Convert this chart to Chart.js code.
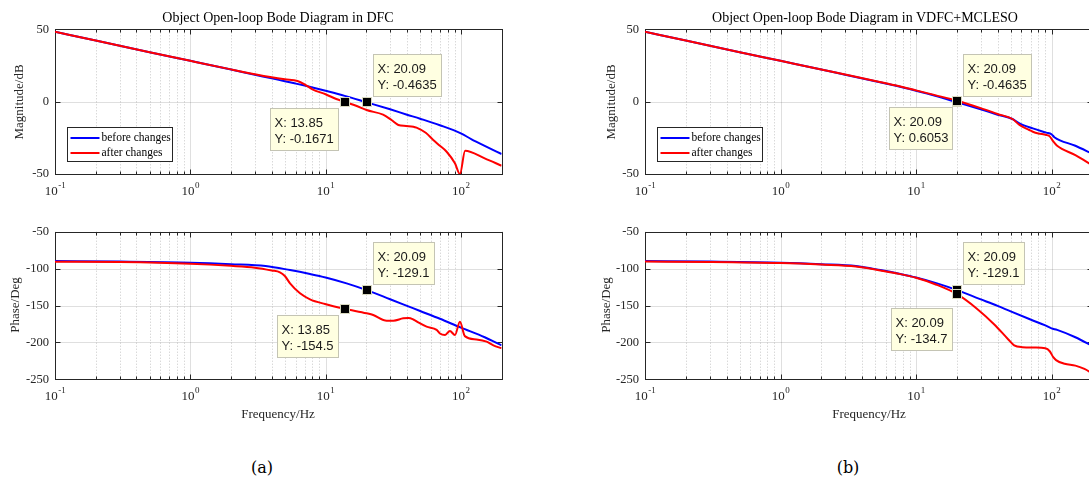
<!DOCTYPE html>
<html>
<head>
<meta charset="utf-8">
<script src="https://cdn.jsdelivr.net/npm/chart.js@4.4.1/dist/chart.umd.min.js"></script>
<style>
  html, body { margin: 0; padding: 0; background: #fff; }
  body { width: 1089px; height: 483px; overflow: hidden; position: relative; }
  .box { position: absolute; }
  .txt { position: absolute; white-space: nowrap; color: #000; font-family: "Liberation Serif", serif; }
  .ttl { font-size: 14px; line-height: 16px; transform: translateX(-50%); }
  .ylab { font-size: 13px; line-height: 14px; transform: translate(-50%, -50%) rotate(-90deg); color: #262626; }
  .xlab { font-size: 13px; line-height: 14px; transform: translate(-50%, -50%); color: #262626; }
  .cap { font-family: "DejaVu Serif", serif; font-size: 16px; line-height: 18px; transform: translate(-50%, -50%); }
</style>
</head>
<body>

<div class="box" style="left:0;top:0"><canvas id="magA" width="540" height="200"></canvas></div>
<div class="box" style="left:0;top:200px"><canvas id="phA" width="540" height="230"></canvas></div>
<div class="box" style="left:549px;top:0"><canvas id="magB" width="560" height="200"></canvas></div>
<div class="box" style="left:549px;top:200px"><canvas id="phB" width="560" height="230"></canvas></div>

<div class="txt ttl" style="left:278px;top:10px">Object Open-loop Bode Diagram in DFC</div>
<div class="txt ttl" style="left:865px;top:10px">Object Open-loop Bode Diagram in VDFC+MCLESO</div>
<div class="txt ylab" style="left:19px;top:102px">Magnitude/dB</div>
<div class="txt ylab" style="left:15px;top:305px">Phase/Deg</div>
<div class="txt ylab" style="left:611px;top:102px">Magnitude/dB</div>
<div class="txt ylab" style="left:606px;top:305px">Phase/Deg</div>
<div class="txt xlab" style="left:278px;top:414px">Frequency/Hz</div>
<div class="txt xlab" style="left:869px;top:414px">Frequency/Hz</div>
<div class="txt cap" style="left:262px;top:468px">(a)</div>
<div class="txt cap" style="left:848px;top:468px">(b)</div>

<script>
// ---- data ----
const seriesNames = ['before changes', 'after changes'];
const xDecades = [0.1, 1, 10, 100];
const magTicks = [-50, 0, 50];
const phaseTicks = [-250, -200, -150, -100, -50];

// (a) DFC, magnitude
const dfcMagBlueF = [0.1, 0.2, 0.5, 1, 2, 3, 4, 5, 6, 7, 8, 10, 13.85, 20.09, 30, 40, 50, 70, 100, 120, 150, 200];
const dfcMagBlue  = [48.3, 42.2, 34.2, 28.2, 22.2, 18.6, 16.1, 14.1, 12.5, 11.1, 9.8, 7.5, 4.0, -0.46, -5.3, -9.0, -11.8, -16.3, -21.9, -26.0, -30.5, -36.2];
const dfcMagRedF  = [0.1, 0.2, 0.5, 1, 2, 3, 4, 5, 6.2, 7, 8, 10, 12, 13.85, 17, 20.09, 26.6, 30.7, 34.5, 39.3, 44.6, 47, 55, 62.5, 70, 78.5, 90.4, 98.4, 107.5, 150, 200];
const dfcMagRed   = [48.3, 42.2, 34.2, 28.2, 22.3, 19.0, 16.9, 15.5, 14.3, 12.0, 8.5, 5.1, 1.8, -0.17, -3.0, -5.8, -9.0, -12.7, -16.1, -16.8, -17.3, -18.0, -21.5, -26.5, -30.5, -34.6, -42.6, -50, -33.9, -39.2, -44.3];
// (a) DFC, phase
const dfcPhBlueF = [0.1, 0.3, 1, 2, 3.6, 5.46, 7.67, 10, 14.3, 20.09, 30, 40, 50, 70, 100, 150, 200];
const dfcPhBlue  = [-89.8, -90.5, -92, -94, -96.5, -102, -107.3, -112, -120, -129.1, -141.5, -150.5, -157.5, -168, -180, -193, -204];
const dfcPhRedF  = [0.1, 0.3, 1, 2, 3, 4, 4.6, 5.0, 5.46, 6.47, 7.67, 9.9, 13.85, 20.1, 22.5, 28.3, 31.7, 37.5, 41, 44.5, 48.4, 55.8, 66.2, 70, 76.4, 83, 90.4, 98.4, 107, 130.6, 155, 174, 200];
const dfcPhRed   = [-90.6, -91.2, -93.5, -96.3, -98.7, -102.5, -105, -110, -120, -133.5, -141.6, -148, -154.5, -160.6, -162.9, -170.5, -170.5, -167.4, -167, -169, -173, -178.7, -183, -188, -190, -184.5, -190, -172, -191.5, -196, -199, -204, -208];

// (b) VDFC+MCLESO, magnitude
const vdfcMagBlueF = [0.1, 0.2, 0.5, 1, 2, 3, 5, 7, 10, 13.85, 20.09, 30, 40, 51.5, 58, 72.8, 91.5, 100, 105, 150, 200];
const vdfcMagBlue  = [48.3, 42.2, 34.2, 28.2, 22.2, 18.6, 14.1, 11.1, 7.5, 4.0, -0.46, -5.3, -9.0, -12.0, -15.0, -18.5, -21.4, -22.5, -24.6, -30.5, -36.0];
const vdfcMagRedF  = [0.1, 0.2, 0.5, 1, 2, 3, 5, 7, 10, 13.85, 20.09, 30, 40, 51.5, 58, 68.5, 72.8, 80, 91.5, 97, 103, 110, 150, 200];
const vdfcMagRed   = [48.3, 42.2, 34.2, 28.2, 22.2, 18.7, 14.3, 11.3, 7.8, 4.5, 0.6053, -4.5, -8.5, -12.0, -16.1, -19.6, -20.8, -22.0, -23.0, -24.0, -27.5, -30.5, -37.0, -44.0];
// (b) VDFC+MCLESO, phase
const vdfcPhBlueF = [0.1, 0.3, 1, 2, 3.6, 5.46, 7.67, 10, 14.3, 20.09, 29.4, 40, 50, 70, 90, 100, 110, 150, 187, 200];
const vdfcPhBlue  = [-89.8, -90.5, -92, -94, -96.5, -102, -107.3, -112, -120, -129.1, -141, -150.5, -158, -169, -177, -181, -183, -193, -202, -205];
const vdfcPhRedF  = [0.1, 0.3, 1, 2, 3.6, 5.46, 7.67, 10, 14, 20.09, 28, 38, 48, 53, 61, 75, 90, 97, 103, 108, 125, 150, 175, 200];
const vdfcPhRed   = [-90.5, -91, -92.5, -94.5, -97, -102.5, -107.5, -112.5, -121.5, -134.7, -154, -176, -196, -204, -206.5, -207, -208, -212, -220, -224, -229, -231.5, -236, -242];

// data tips
const dfcMagTips  = [{ x: 13.85, y: -0.1671 }, { x: 20.09, y: -0.4635 }];
const dfcPhTips   = [{ x: 20.09, y: -129.1 }, { x: 13.85, y: -154.5 }];
const vdfcMagTips = [{ x: 20.09, y: -0.4635 }, { x: 20.09, y: 0.6053 }];
const vdfcPhTips  = [{ x: 20.09, y: -129.1 }, { x: 20.09, y: -134.7 }];

// ---- drawing helpers ----
const xMinor = [];
xDecades.forEach(d => { for (let k = 2; k <= 9; k++) if (k * d <= 200) xMinor.push(k * d); });

const snap = v => Math.round(v) + 0.5;
const pts = (f, v) => f.map((x, i) => ({ x, y: v[i] }));

function seg(ctx, x1, y1, x2, y2) {
  ctx.beginPath(); ctx.moveTo(x1, y1); ctx.lineTo(x2, y2); ctx.stroke();
}

const bodeAxes = {
  id: 'bodeAxes',
  beforeDatasetsDraw(chart, args, o) {
    const { ctx, chartArea: a, scales: { x, y } } = chart;
    ctx.save();
    ctx.lineWidth = 1;
    // minor grid (dotted)
    ctx.strokeStyle = 'rgba(38,38,38,0.25)';
    ctx.setLineDash([1, 2]);
    xMinor.forEach(v => { const px = snap(x.getPixelForValue(v)); seg(ctx, px, a.top, px, a.bottom); });
    ctx.setLineDash([]);
    // major grid
    ctx.strokeStyle = 'rgba(38,38,38,0.15)';
    xDecades.forEach(v => { const px = snap(x.getPixelForValue(v)); seg(ctx, px, a.top, px, a.bottom); });
    o.yTicks.forEach(v => { const py = snap(y.getPixelForValue(v)); seg(ctx, a.left, py, a.right, py); });
    // box
    ctx.strokeStyle = '#262626';
    const L = snap(a.left), R = snap(a.right), T = snap(a.top), B = snap(a.bottom);
    ctx.strokeRect(L, T, R - L, B - T);
    // inward ticks
    xMinor.forEach(v => { const px = snap(x.getPixelForValue(v)); seg(ctx, px, B, px, B - 3); seg(ctx, px, T, px, T + 3); });
    xDecades.forEach(v => { const px = snap(x.getPixelForValue(v)); seg(ctx, px, B, px, B - 5); seg(ctx, px, T, px, T + 5); });
    o.yTicks.forEach(v => { const py = snap(y.getPixelForValue(v)); seg(ctx, L, py, L + 5, py); seg(ctx, R, py, R - 5, py); });
    ctx.restore();
  },
  afterDatasetsDraw(chart, args, o) {
    const { ctx, chartArea: a, scales: { x, y } } = chart;
    ctx.save();
    // data tips
    ctx.font = '13px "Liberation Sans", Arial, sans-serif';
    o.tips.forEach((t, i) => {
      const p = o.place[i];
      const px = x.getPixelForValue(t.x), py = y.getPixelForValue(t.y);
      const l1 = 'X: ' + t.x, l2 = 'Y: ' + t.y;
      const w = Math.ceil(Math.max(ctx.measureText(l1).width, ctx.measureText(l2).width)) + 8;
      const h = 42;
      let bx = px + p.dx, by = py + p.dy;
      if (p.corner === 'bl') by -= h;
      if (p.corner === 'tr') bx -= w;
      bx = Math.round(bx) + 0.5; by = Math.round(by) + 0.5;
      ctx.fillStyle = '#ffffe1';
      ctx.strokeStyle = '#c4c4b4';
      ctx.lineWidth = 1;
      ctx.fillRect(bx, by, w, h);
      ctx.strokeRect(bx, by, w, h);
      ctx.fillStyle = '#1a1a1a';
      ctx.textAlign = 'left'; ctx.textBaseline = 'alphabetic';
      ctx.fillText(l1, bx + 4, by + 18);
      ctx.fillText(l2, bx + 4, by + 34);
    });
    o.tips.forEach(t => {
      const px = x.getPixelForValue(t.x), py = y.getPixelForValue(t.y);
      ctx.fillStyle = '#000';
      ctx.strokeStyle = '#d9d9c0';
      ctx.fillRect(Math.round(px) - 4, Math.round(py) - 4, 8, 8);
      ctx.strokeRect(Math.round(px) - 4.5, Math.round(py) - 4.5, 9, 9);
    });
    // legend
    if (o.legend) {
      const lx = Math.round(a.left) + 12.5, ly = Math.round(a.bottom) - 46.5;
      ctx.fillStyle = '#fff';
      ctx.strokeStyle = '#262626';
      ctx.fillRect(lx, ly, 105, 34);
      ctx.strokeRect(lx, ly, 105, 34);
      ctx.font = '11.5px "Liberation Serif", serif';
      ctx.textBaseline = 'middle';
      chart.data.datasets.forEach((d, i) => {
        const yy = ly + 10.5 + i * 15;
        ctx.strokeStyle = d.borderColor;
        ctx.lineWidth = 2;
        seg(ctx, lx + 3, yy, lx + 32, yy);
        ctx.fillStyle = '#000';
        ctx.fillText(d.label, lx + 34, yy);
      });
    }
    ctx.restore();
  },
  afterDraw(chart, args, o) {
    const { ctx, chartArea: a, scales: { x, y } } = chart;
    ctx.save();
    ctx.fillStyle = '#262626';
    // y tick labels
    ctx.font = '12.5px "Liberation Serif", serif';
    ctx.textAlign = 'right'; ctx.textBaseline = 'middle';
    o.yTicks.forEach(v => ctx.fillText(String(v), a.left - 6, y.getPixelForValue(v)));
    // x tick labels 10^n
    ctx.textAlign = 'left'; ctx.textBaseline = 'alphabetic';
    xDecades.forEach(v => {
      const e = String(Math.round(Math.log10(v)));
      ctx.font = '13px "Liberation Serif", serif';
      const wb = ctx.measureText('10').width;
      ctx.font = '9px "Liberation Serif", serif';
      const we = ctx.measureText(e).width;
      const sx = x.getPixelForValue(v) - (wb + we) / 2;
      ctx.font = '13px "Liberation Serif", serif';
      ctx.fillText('10', sx, a.bottom + 21);
      ctx.font = '9px "Liberation Serif", serif';
      ctx.fillText(e, sx + wb + 0.5, a.bottom + 14);
    });
    ctx.restore();
  }
};

function bode(id, blue, red, yMin, yMax, yTicks, tips, place, pad) {
  return new Chart(document.getElementById(id), {
    type: 'line',
    data: {
      datasets: [
        { label: seriesNames[0], data: blue, borderColor: '#0000ff', borderWidth: 2, pointRadius: 0, cubicInterpolationMode: 'monotone', order: 2 },
        { label: seriesNames[1], data: red, borderColor: '#ff0000', borderWidth: 2, pointRadius: 0, cubicInterpolationMode: 'monotone', order: 1 }
      ]
    },
    options: {
      responsive: false,
      animation: false,
      events: [],
      layout: { padding: pad },
      scales: {
        x: { type: 'logarithmic', min: 0.1, max: 200, display: false },
        y: { type: 'linear', min: yMin, max: yMax, display: false }
      },
      plugins: {
        legend: { display: false },
        tooltip: { enabled: false },
        bodeAxes: { yTicks, tips, place, legend: yMax === 50 }
      }
    },
    plugins: [bodeAxes]
  });
}

bode('magA', pts(dfcMagBlueF, dfcMagBlue), pts(dfcMagRedF, dfcMagRed), -50, 50, magTicks, dfcMagTips,
  [{ corner: 'tr', dx: -7, dy: 6 }, { corner: 'bl', dx: 6, dy: -6 }],
  { left: 55, top: 29.3, right: 38.4, bottom: 26 });
bode('phA', pts(dfcPhBlueF, dfcPhBlue), pts(dfcPhRedF, dfcPhRed), -250, -50, phaseTicks, dfcPhTips,
  [{ corner: 'bl', dx: 6, dy: -6 }, { corner: 'tr', dx: -7, dy: 6 }],
  { left: 55, top: 31.7, right: 38.4, bottom: 50.7 });
bode('magB', pts(vdfcMagBlueF, vdfcMagBlue), pts(vdfcMagRedF, vdfcMagRed), -50, 50, magTicks, vdfcMagTips,
  [{ corner: 'bl', dx: 6, dy: -6 }, { corner: 'tr', dx: -5, dy: 6.5 }],
  { left: 96, top: 29.3, right: 16.7, bottom: 26 });
bode('phB', pts(vdfcPhBlueF, vdfcPhBlue), pts(vdfcPhRedF, vdfcPhRed), -250, -50, phaseTicks, vdfcPhTips,
  [{ corner: 'bl', dx: 6, dy: -6.5 }, { corner: 'tr', dx: -5, dy: 14 }],
  { left: 96, top: 31.7, right: 16.7, bottom: 50.7 });
</script>
</body>
</html>
